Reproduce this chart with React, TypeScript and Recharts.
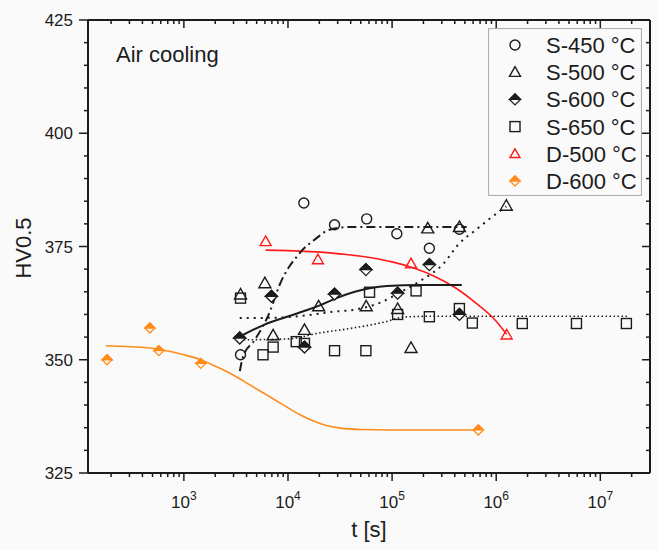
import React from 'react';
import { ComposedChart, Scatter, Line, XAxis, YAxis } from 'recharts';

// hardness HV0.5 vs. holding time t [s], air cooling
const S450_T = [3500, 14200, 28000, 57000, 111000, 228000, 443000];
const S450_HV = [351.1, 384.6, 379.8, 381.1, 377.8, 374.6, 378.8];

const S500_T = [3500, 6000, 7200, 14400, 19700, 56400, 113000, 152000, 220000, 443000, 1250000];
const S500_HV = [364.4, 366.9, 355.4, 356.6, 361.8, 361.8, 361.2, 352.6, 379.0, 379.3, 384.0];

const S600_T = [3440, 6930, 14400, 28000, 56000, 113000, 228000, 443000];
const S600_HV = [354.8, 364.0, 352.8, 364.5, 369.9, 364.7, 371.0, 360.0];

const S650_T = [3500, 5760, 7200, 12000, 14400, 28000, 56000, 60700, 113000, 170000, 228000, 443000, 590000, 1780000, 5900000, 17800000];
const S650_HV = [363.6, 351.1, 352.8, 354.0, 353.6, 352.0, 352.0, 364.9, 360.0, 365.2, 359.5, 361.3, 358.1, 358.0, 358.0, 358.0];

const D500_T = [6100, 19400, 152000, 1260000];
const D500_HV = [376.1, 372.1, 371.2, 355.5];

const D600_T = [183, 472, 575, 1456, 673000];
const D600_HV = [350.0, 357.0, 352.0, 349.2, 334.5];

// fitted curves
const FIT_S450_T = [3450, 3700, 4800, 6700, 8300, 12900, 18700, 25000, 40000, 520000];
const FIT_S450_HV = [347.5, 350.7, 354.4, 360.6, 366.5, 373.5, 376.8, 378.7, 379.3, 379.3];

const FIT_S500_T = [3440, 8000, 15000, 27000, 42000, 75000, 125000, 183000, 305000, 443000, 640000, 920000, 1250000];
const FIT_S500_HV = [359.2, 359.3, 359.8, 360.6, 361.0, 362.5, 365.1, 367.3, 371.0, 375.7, 378.7, 381.6, 383.8];

const FIT_S600_T = [3440, 5740, 12200, 20200, 31500, 43900, 61100, 89100, 185000, 467000];
const FIT_S600_HV = [355.1, 357.6, 360.2, 362.0, 363.9, 365.0, 365.8, 366.3, 366.5, 366.5];

const FIT_S650_T = [3440, 10000, 20000, 42000, 87000, 127000, 228000, 18000000];
const FIT_S650_HV = [354.4, 354.6, 355.9, 357.0, 358.4, 359.4, 359.6, 359.6];

const FIT_D500_T = [6100, 10000, 25100, 63100, 100000, 158500, 251200, 398100, 631000, 1000000, 1260000];
const FIT_D500_HV = [374.2, 374.1, 373.6, 372.5, 371.6, 370.3, 368.5, 366.0, 362.6, 358.5, 355.6];

const FIT_D600_T = [178, 470, 1000, 1410, 2040, 2950, 4270, 6170, 8910, 12900, 15850, 22390, 31620, 50100, 100000, 673000];
const FIT_D600_HV = [353.1, 352.6, 351.1, 350.1, 348.5, 346.7, 344.5, 342.3, 340.1, 337.9, 336.9, 335.6, 334.9, 334.6, 334.5, 334.5];

// axes
const X_DOMAIN = [120, 30000000];
const X_MAJOR = [1000, 10000, 100000, 1000000, 10000000];
const X_MAJOR_EXP = ['3', '4', '5', '6', '7'];
const X_MINOR = [
  200, 300, 400, 500, 600, 700, 800, 900,
  2000, 3000, 4000, 5000, 6000, 7000, 8000, 9000,
  20000, 30000, 40000, 50000, 60000, 70000, 80000, 90000,
  200000, 300000, 400000, 500000, 600000, 700000, 800000, 900000,
  2000000, 3000000, 4000000, 5000000, 6000000, 7000000, 8000000, 9000000,
  20000000,
];
const Y_DOMAIN = [325, 425];
const Y_MAJOR = [325, 350, 375, 400, 425];
const Y_MINOR = [330, 335, 340, 345, 355, 360, 365, 370, 380, 385, 390, 395, 405, 410, 415, 420];

const LEGEND_LABELS = ['S-450 °C', 'S-500 °C', 'S-600 °C', 'S-650 °C', 'D-500 °C', 'D-600 °C'];

const FONT = '"Liberation Sans", Arial, sans-serif';
const INK = '#1c1c1c';
const RED = '#ff1a1a';
const ORANGE = '#ff8c1a';
const BG = '#fafafa';

const zip = (t: number[], hv: number[]) => t.map((x, i) => ({ x, y: hv[i] }));

const X_TICKS = [...X_MAJOR, ...X_MINOR].sort((a, b) => a - b);
const Y_TICKS = [...Y_MAJOR, ...Y_MINOR].sort((a, b) => a - b);

// ---- marker shapes ----
function Circ({ cx, cy, color = INK }: any) {
  return <circle cx={cx} cy={cy} r={5} fill="none" stroke={color} strokeWidth={1.4} />;
}
function Tri({ cx, cy, color = INK, s = 6 }: any) {
  const pts = `${cx},${cy - s} ${cx - s},${cy + s * 0.75} ${cx + s},${cy + s * 0.75}`;
  return <polygon points={pts} fill="none" stroke={color} strokeWidth={1.4} />;
}
function Sq({ cx, cy, color = INK }: any) {
  return <rect x={cx - 5} y={cy - 5} width={10} height={10} fill="none" stroke={color} strokeWidth={1.4} />;
}
function HalfDiamond({ cx, cy, color = INK, s = 6 }: any) {
  const full = `${cx},${cy - s} ${cx + s},${cy} ${cx},${cy + s} ${cx - s},${cy}`;
  const top = `${cx - s},${cy} ${cx},${cy - s} ${cx + s},${cy}`;
  return (
    <g>
      <polygon points={full} fill={BG} stroke={color} strokeWidth={1.3} />
      <polygon points={top} fill={color} stroke={color} strokeWidth={1.3} />
    </g>
  );
}

// ---- ticks ----
function BottomTick(p: any) {
  const v = p.payload.value;
  const i = X_MAJOR.indexOf(v);
  const major = i >= 0;
  return (
    <g>
      <line x1={p.x} x2={p.x} y1={p.y} y2={p.y + (major ? 8 : 4)} stroke={INK} strokeWidth={1.5} />
      {major && (
        <text x={p.x} y={p.y + 35} textAnchor="middle" fontSize={17} fill={INK} fontFamily={FONT}>
          <tspan>10</tspan>
          <tspan fontSize={12} dy={-8}>{X_MAJOR_EXP[i]}</tspan>
        </text>
      )}
    </g>
  );
}
function TopTick(p: any) {
  const major = X_MAJOR.includes(p.payload.value);
  return <line x1={p.x} x2={p.x} y1={p.y} y2={p.y + (major ? 8 : 4)} stroke={INK} strokeWidth={1.5} />;
}
function LeftTick(p: any) {
  const v = p.payload.value;
  const major = Y_MAJOR.includes(v);
  return (
    <g>
      <line x1={p.x - (major ? 9 : 4)} x2={p.x} y1={p.y} y2={p.y} stroke={INK} strokeWidth={1.5} />
      {major && (
        <text x={p.x - 15} y={p.y} dy="0.36em" textAnchor="end" fontSize={17} fill={INK} fontFamily={FONT}>
          {v}
        </text>
      )}
    </g>
  );
}
function RightTick(p: any) {
  const major = Y_MAJOR.includes(p.payload.value);
  return <line x1={p.x - (major ? 8 : 4)} x2={p.x} y1={p.y} y2={p.y} stroke={INK} strokeWidth={1.5} />;
}

function LegendBox() {
  const markers = [
    <Circ cx={27} cy={0} />,
    <Tri cx={27} cy={0} s={5.5} />,
    <HalfDiamond cx={27} cy={0} s={5.5} />,
    <Sq cx={27} cy={0} />,
    <Tri cx={27} cy={0} color={RED} s={5} />,
    <HalfDiamond cx={27} cy={0} color={ORANGE} s={5} />,
  ];
  return (
    <svg width={154} height={168} style={{ display: 'block' }}>
      <rect x={0.5} y={0.5} width={153} height={167} fill={BG} stroke="#b0b0b0" strokeWidth={1.2} />
      {LEGEND_LABELS.map((label, i) => (
        <g key={label} transform={`translate(0, ${17 + i * 27.2})`}>
          {markers[i]}
          <text x={58} y={0} dy="0.36em" fontSize={22} fill={INK} fontFamily={FONT}>
            {label}
          </text>
        </g>
      ))}
    </svg>
  );
}

export default function App() {
  return (
    <div style={{ position: 'relative', width: 658, height: 550, background: BG, fontFamily: FONT }}>
      <style>{`body{margin:0;background:${BG}}`}</style>
      <ComposedChart width={658} height={550} margin={{ top: 19, right: 0, bottom: 0, left: 0 }}>
        <XAxis
          xAxisId="b"
          dataKey="x"
          type="number"
          scale="log"
          domain={X_DOMAIN}
          allowDataOverflow
          ticks={X_TICKS}
          interval={0}
          height={77}
          tickSize={0}
          tickMargin={0}
          tickLine={false}
          tick={<BottomTick />}
          axisLine={{ stroke: INK, strokeWidth: 2 }}
        />
        <XAxis
          xAxisId="t"
          orientation="top"
          dataKey="x"
          type="number"
          scale="log"
          domain={X_DOMAIN}
          allowDataOverflow
          ticks={X_TICKS}
          interval={0}
          height={1}
          tickSize={0}
          tickMargin={0}
          tickLine={false}
          tick={<TopTick />}
          axisLine={{ stroke: INK, strokeWidth: 2 }}
        />
        <YAxis
          yAxisId="l"
          dataKey="y"
          type="number"
          domain={Y_DOMAIN}
          allowDataOverflow
          ticks={Y_TICKS}
          interval={0}
          width={88}
          tickSize={0}
          tickMargin={0}
          tickLine={false}
          tick={<LeftTick />}
          axisLine={{ stroke: INK, strokeWidth: 2 }}
        />
        <YAxis
          yAxisId="r"
          orientation="right"
          dataKey="y"
          type="number"
          domain={Y_DOMAIN}
          allowDataOverflow
          ticks={Y_TICKS}
          interval={0}
          width={8}
          tickSize={0}
          tickMargin={0}
          tickLine={false}
          tick={<RightTick />}
          axisLine={{ stroke: INK, strokeWidth: 2 }}
        />

        <Line xAxisId="b" yAxisId="l" data={zip(FIT_D600_T, FIT_D600_HV)} dataKey="y" type="monotone"
          stroke={ORANGE} strokeWidth={1.6} dot={false} isAnimationActive={false} />
        <Line xAxisId="b" yAxisId="l" data={zip(FIT_D500_T, FIT_D500_HV)} dataKey="y" type="monotone"
          stroke={RED} strokeWidth={1.6} dot={false} isAnimationActive={false} />
        <Line xAxisId="b" yAxisId="l" data={zip(FIT_S650_T, FIT_S650_HV)} dataKey="y" type="monotone"
          stroke={INK} strokeWidth={1.6} strokeDasharray="1.5 2.5" dot={false} isAnimationActive={false} />
        <Line xAxisId="b" yAxisId="l" data={zip(FIT_S500_T, FIT_S500_HV)} dataKey="y" type="monotone"
          stroke={INK} strokeWidth={2} strokeDasharray="2 5" dot={false} isAnimationActive={false} />
        <Line xAxisId="b" yAxisId="l" data={zip(FIT_S600_T, FIT_S600_HV)} dataKey="y" type="monotone"
          stroke={INK} strokeWidth={2} dot={false} isAnimationActive={false} />
        <Line xAxisId="b" yAxisId="l" data={zip(FIT_S450_T, FIT_S450_HV)} dataKey="y" type="monotone"
          stroke={INK} strokeWidth={2} strokeDasharray="9 4 2 4" dot={false} isAnimationActive={false} />

        <Scatter xAxisId="b" yAxisId="l" name="S-650 °C" data={zip(S650_T, S650_HV)}
          shape={(p: any) => <Sq cx={p.cx} cy={p.cy} />} isAnimationActive={false} />
        <Scatter xAxisId="b" yAxisId="l" name="S-600 °C" data={zip(S600_T, S600_HV)}
          shape={(p: any) => <HalfDiamond cx={p.cx} cy={p.cy} />} isAnimationActive={false} />
        <Scatter xAxisId="b" yAxisId="l" name="S-500 °C" data={zip(S500_T, S500_HV)}
          shape={(p: any) => <Tri cx={p.cx} cy={p.cy} />} isAnimationActive={false} />
        <Scatter xAxisId="b" yAxisId="l" name="S-450 °C" data={zip(S450_T, S450_HV)}
          shape={(p: any) => <Circ cx={p.cx} cy={p.cy} />} isAnimationActive={false} />
        <Scatter xAxisId="b" yAxisId="l" name="D-500 °C" data={zip(D500_T, D500_HV)}
          shape={(p: any) => <Tri cx={p.cx} cy={p.cy} color={RED} s={5.5} />} isAnimationActive={false} />
        <Scatter xAxisId="b" yAxisId="l" name="D-600 °C" data={zip(D600_T, D600_HV)}
          shape={(p: any) => <HalfDiamond cx={p.cx} cy={p.cy} color={ORANGE} s={5} />} isAnimationActive={false} />
      </ComposedChart>

      <div style={{ position: 'absolute', left: 488, top: 28 }}>
        <LegendBox />
      </div>
      <div style={{ position: 'absolute', left: 116, top: 42, fontSize: 22, color: INK, whiteSpace: 'nowrap', lineHeight: '26px' }}>
        Air cooling
      </div>
      <div
        style={{
          position: 'absolute', left: 24, top: 248, fontSize: 22, color: INK, whiteSpace: 'nowrap',
          transform: 'translate(-50%, -50%) rotate(-90deg)', lineHeight: '26px',
        }}
      >
        HV0.5
      </div>
      <div style={{ position: 'absolute', left: 369, top: 517, fontSize: 22, color: INK, whiteSpace: 'nowrap', transform: 'translateX(-50%)', lineHeight: '26px' }}>
        t [s]
      </div>
    </div>
  );
}
